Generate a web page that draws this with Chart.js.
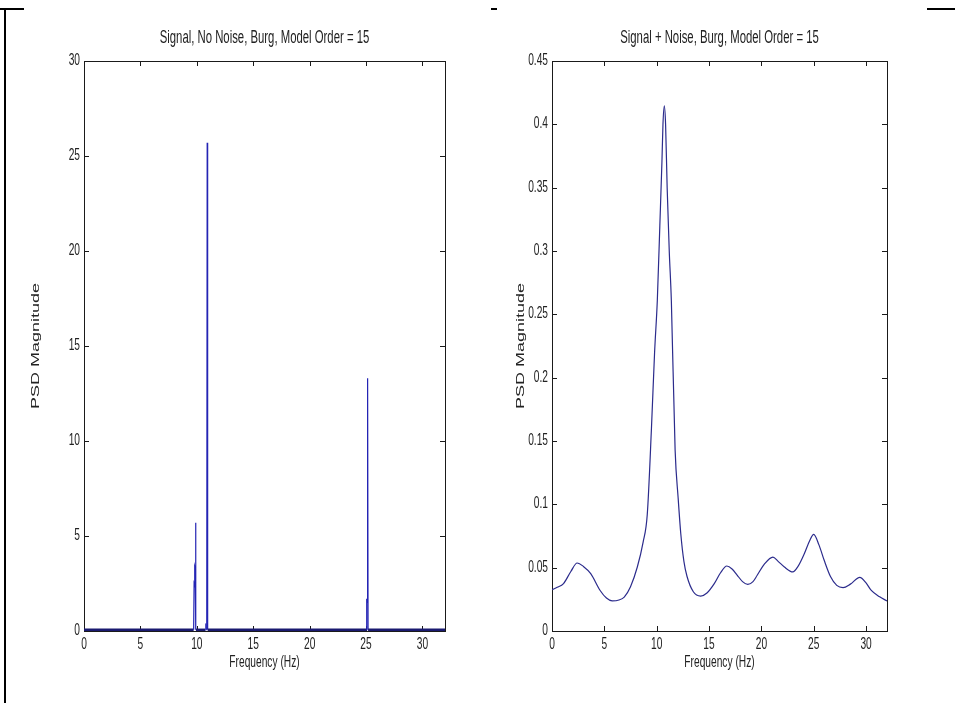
<!DOCTYPE html>
<html>
<head>
<meta charset="utf-8">
<script src="https://cdn.jsdelivr.net/npm/chart.js@4.4.0/dist/chart.umd.min.js"></script>
<style>
  body { margin:0; background:#fff; width:955px; height:703px; overflow:hidden; position:relative; }
  .panel { position:absolute; top:0; height:703px; }
  .edge { position:absolute; background:#000; }
</style>
</head>
<body>
<div class="edge" style="left:4px;top:9px;width:2px;height:694px"></div>
<div class="edge" style="left:0;top:8px;width:24px;height:2px"></div>
<div class="edge" style="left:491px;top:8px;width:6px;height:2px"></div>
<div class="edge" style="left:927px;top:8px;width:28px;height:2px"></div>
<div class="panel" style="left:0;width:478px"><canvas id="leftChart" width="478" height="703"></canvas></div>
<div class="panel" style="left:478px;width:477px"><canvas id="rightChart" width="477" height="703"></canvas></div>
<script>
// left panel: Burg PSD of the clean signal (spikes)
const leftFreq = [0, 9.72, 9.76, 9.80, 9.83, 9.86, 9.89, 9.92, 9.95, 10.76, 10.8, 10.84, 10.88, 10.92, 10.96, 25.02, 25.06, 25.1, 25.14, 25.18, 32];
const leftPsd  = [0.06, 0.06, 2.5, 2.4, 3.4, 3.3, 5.7, 0.06, 0.06, 0.06, 0.4, 0.06, 0.06, 25.7, 0.06, 0.06, 1.7, 1.5, 13.3, 0.06, 0.06];

// right panel: Burg PSD of signal + noise
const rightFreq = [0, 0.5, 1.1, 1.8, 2.4, 3.0, 3.7, 4.6, 5.2, 5.75, 6.4, 6.9, 7.5, 8.15, 8.7, 9.1, 9.5, 9.8, 10.06, 10.3, 10.5, 10.6, 10.73, 10.85, 11.0, 11.2, 11.4, 11.76, 12.05, 12.3, 12.6, 12.9, 13.5, 14.2, 14.8, 15.5, 16.1, 16.7, 17.2, 17.7, 18.2, 18.7, 19.2, 19.6, 20.3, 21.1, 21.6, 22.2, 23.0, 23.5, 24.1, 24.6, 25.0, 25.5, 26.0, 26.6, 27.2, 27.8, 28.5, 29.4, 30.0, 30.5, 31.3, 32];
const rightPsd  = [0.0326, 0.0345, 0.0374, 0.047, 0.0537, 0.051, 0.0453, 0.032, 0.026, 0.0238, 0.0245, 0.0268, 0.035, 0.0505, 0.07, 0.092, 0.16, 0.22, 0.261, 0.32, 0.37, 0.40, 0.4146, 0.40, 0.35, 0.30, 0.261, 0.143, 0.105, 0.077, 0.055, 0.043, 0.031, 0.0276, 0.030, 0.0374, 0.046, 0.0513, 0.049, 0.044, 0.039, 0.0368, 0.039, 0.044, 0.053, 0.0584, 0.055, 0.0505, 0.0466, 0.051, 0.061, 0.071, 0.0763, 0.068, 0.0558, 0.043, 0.036, 0.0342, 0.037, 0.0424, 0.038, 0.032, 0.027, 0.0237];

const xTicks = [0, 5, 10, 15, 20, 25, 30];

// the source figure is squeezed sideways, so every text is drawn narrowed
const FONT = "'Liberation Sans', Arial, sans-serif";
const INK = '#222';

function squeezed(ctx, text, x, y, size, sq, align, baseline, rotate) {
  ctx.save();
  ctx.translate(x, y);
  ctx.scale(sq, 1);
  if (rotate) ctx.rotate(-Math.PI / 2);
  ctx.font = size + 'px ' + FONT;
  ctx.fillStyle = INK;
  ctx.textAlign = align;
  ctx.textBaseline = baseline;
  ctx.fillText(text, 0, 0);
  ctx.restore();
}

// MATLAB style box with inward ticks on all sides, plus all the texts
const boxTicks = {
  id: 'boxTicks',
  beforeDatasetsDraw(chart) {
    const ctx = chart.ctx, a = chart.chartArea, x = chart.scales.x, y = chart.scales.y;
    ctx.save();
    ctx.strokeStyle = '#1a1a1a';
    ctx.lineWidth = 1;
    ctx.strokeRect(Math.round(a.left) + .5, Math.round(a.top) + .5, Math.round(a.right - a.left), Math.round(a.bottom - a.top));
    ctx.beginPath();
    x.ticks.forEach(t => {
      const px = Math.round(x.getPixelForValue(t.value)) + .5;
      ctx.moveTo(px, a.bottom); ctx.lineTo(px, a.bottom - 5);
      ctx.moveTo(px, a.top); ctx.lineTo(px, a.top + 5);
    });
    y.ticks.forEach(t => {
      const py = Math.round(y.getPixelForValue(t.value)) + .5;
      ctx.moveTo(a.left, py); ctx.lineTo(a.left + 5, py);
      ctx.moveTo(a.right, py); ctx.lineTo(a.right - 5, py);
    });
    ctx.stroke();
    ctx.restore();
  },
  afterDraw(chart, args, opts) {
    const ctx = chart.ctx, a = chart.chartArea, x = chart.scales.x, y = chart.scales.y;
    x.ticks.forEach(t => {
      squeezed(ctx, String(t.value), x.getPixelForValue(t.value), a.bottom + 18, 17, 0.6, 'center', 'alphabetic');
    });
    y.ticks.forEach(t => {
      squeezed(ctx, String(+t.value.toFixed(2)), a.left - 4, y.getPixelForValue(t.value) + 4, 17, 0.6, 'right', 'alphabetic');
    });
    squeezed(ctx, opts.title, (a.left + a.right) / 2, 43, 18, 0.63, 'center', 'alphabetic');
    squeezed(ctx, 'Frequency (Hz)', (a.left + a.right) / 2, a.bottom + 36, 17, 0.6, 'center', 'alphabetic');
    squeezed(ctx, 'PSD Magnitude', opts.yTitleX, (a.top + a.bottom) / 2, 18, 0.6, 'center', 'middle', true);
  }
};

function makeChart(id, freq, psd, opt) {
  return new Chart(document.getElementById(id).getContext('2d'), {
    type: 'line',
    data: {
      datasets: [{
        data: freq.map((f, i) => ({ x: f, y: psd[i] })),
        borderColor: opt.color,
        borderWidth: opt.width,
        // the near-zero floor of the spectrum shows as a heavier line
        segment: opt.floor ? {
          borderWidth: c => (c.p0.parsed.y < 0.1 && c.p1.parsed.y < 0.1) ? 2.6 : opt.width,
          borderColor: c => (c.p0.parsed.y < 0.1 && c.p1.parsed.y < 0.1) ? '#1a1a70' : opt.color
        } : undefined,
        pointRadius: 0,
        fill: false,
        cubicInterpolationMode: opt.smooth ? 'monotone' : 'default',
        tension: 0
      }]
    },
    options: {
      responsive: false,
      animation: false,
      layout: { padding: { top: 61, right: opt.padRight, left: 0, bottom: 0 } },
      plugins: {
        legend: { display: false },
        tooltip: { enabled: false },
        boxTicks: { title: opt.title, yTitleX: opt.yTitleX }
      },
      scales: {
        x: {
          type: 'linear', min: 0, max: 32,
          afterBuildTicks: s => { s.ticks = xTicks.map(v => ({ value: v })); },
          ticks: { display: false },
          grid: { display: false, drawTicks: false },
          border: { display: false },
          afterFit: s => { s.height = 72; }
        },
        y: {
          min: 0, max: opt.yMax,
          ticks: { display: false, stepSize: opt.yStep, includeBounds: false },
          grid: { display: false, drawTicks: false },
          border: { display: false },
          afterFit: s => { s.width = opt.yWidth; }
        }
      }
    },
    plugins: [boxTicks]
  });
}

makeChart('leftChart', leftFreq, leftPsd, {
  title: 'Signal, No Noise, Burg, Model Order = 15',
  color: '#2424b4', width: 1.2, smooth: false, floor: true,
  yMax: 30, yStep: 5, yWidth: 84, yTitleX: 36, padRight: 33
});
makeChart('rightChart', rightFreq, rightPsd, {
  title: 'Signal + Noise, Burg, Model Order = 15',
  color: '#2b2b8c', width: 1.2, smooth: true, floor: false,
  yMax: 0.45, yStep: 0.05, yWidth: 74, yTitleX: 43, padRight: 68
});
</script>
</body>
</html>
